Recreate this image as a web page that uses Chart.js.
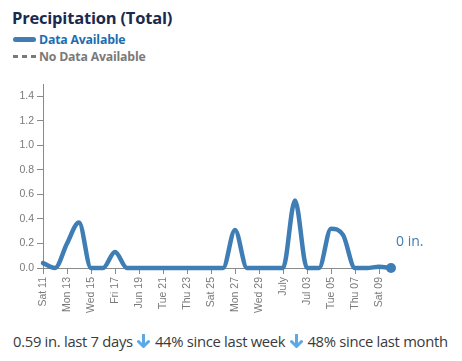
<!DOCTYPE html>
<html>
<head>
<meta charset="utf-8">
<script src="https://cdn.jsdelivr.net/npm/chart.js@4/dist/chart.umd.min.js"></script>
<style>
        body { margin: 0; background: #fff; width: 462px; height: 361px; overflow: hidden; font-family: "Open Sans", sans-serif; }
        #title { position: absolute; left: 12px; top: 6px; font-size: 16.5px; font-weight: bold; color: #1b2a4c; letter-spacing: -0.2px; }
        .leg { position: absolute; left: 13px; font-size: 12.3px; font-weight: bold; letter-spacing: -0.2px; }
        .leg i { display: inline-block; width: 23px; vertical-align: middle; margin-right: 3px; position: relative; top: -1px; }
        #leg1 { top: 31px; color: #1d6db0; }
        #leg1 i { height: 5px; border-radius: 3px; background: #3f7db5; }
        #leg2 { top: 48px; color: #7a7a7a; }
        #leg2 i { height: 3px; background: repeating-linear-gradient(90deg, #7a7a7a 0 5px, transparent 5px 9px); }
        #chartWrap { position: absolute; left: 0; top: 70px; }
        #summary { position: absolute; left: 13px; top: 331px; font-size: 14.8px; color: #3a3a3a; letter-spacing: -0.3px; white-space: nowrap; }
        #summary svg { vertical-align: -2px; margin: 0 1px; }
</style>
</head>
<body>
<div id="title">Precipitation (Total)</div>
<div class="leg" id="leg1"><i></i>Data Available</div>
<div class="leg" id="leg2"><i></i>No Data Available</div>
<div id="chartWrap"><canvas id="chart" width="462" height="250"></canvas></div>
<div id="summary">0.59 in. last 7 days <svg width="13" height="15" viewBox="0 0 13 15"><path d="M6.5 1 V12 M1.5 7.5 L6.5 12.5 L11.5 7.5" fill="none" stroke="#5ba8e6" stroke-width="3" stroke-linecap="round" stroke-linejoin="round"/></svg> 44% since last week <svg width="13" height="15" viewBox="0 0 13 15"><path d="M6.5 1 V12 M1.5 7.5 L6.5 12.5 L11.5 7.5" fill="none" stroke="#5ba8e6" stroke-width="3" stroke-linecap="round" stroke-linejoin="round"/></svg> 48% since last month</div>

<script>
// daily totals, Jun 11 .. Jul 10 (inches)
var days = ["Jun 11","Jun 12","Jun 13","Jun 14","Jun 15","Jun 16","Jun 17","Jun 18","Jun 19","Jun 20",
            "Jun 21","Jun 22","Jun 23","Jun 24","Jun 25","Jun 26","Jun 27","Jun 28","Jun 29","Jun 30",
            "Jul 01","Jul 02","Jul 03","Jul 04","Jul 05","Jul 06","Jul 07","Jul 08","Jul 09","Jul 10"];
var precip = [0.04, 0.0, 0.2, 0.37, 0, 0, 0.13, 0, 0, 0,
              0, 0, 0, 0, 0, 0, 0.31, 0, 0, 0,
              0, 0.55, 0, 0, 0.32, 0.27, 0, 0, 0.01, 0];
// every second day gets a label
var tickLabels = ["Sat 11","Mon 13","Wed 15","Fri 17","Jun 19","Tue 21","Thu 23","Sat 25",
                  "Mon 27","Wed 29","July","Jul 03","Tue 05","Thu 07","Sat 09"];
var yTicks = [0, 0.2, 0.4, 0.6, 0.8, 1.0, 1.2, 1.4];
var lastLabel = "0 in.";

var lineColor = "#3f7db5";
var axisColor = "#8a8a8a";

var points = [];
for (var i = 0; i < precip.length; i++)
        points.push({ x: i, y: precip[i] });

var radii = precip.map(function(v, i) { return i === precip.length - 1 ? 5 : 0; });

// writes the current value next to the last point
var endLabel = {
        id: "endLabel",
        afterDatasetsDraw: function(chart)
        {
                var meta = chart.getDatasetMeta(0);
                var pt = meta.data[meta.data.length - 1];
                var ctx = chart.ctx;
                ctx.save();
                ctx.font = "14px 'Open Sans'";
                ctx.fillStyle = lineColor;
                ctx.textAlign = "left";
                ctx.textBaseline = "middle";
                ctx.fillText(lastLabel, pt.x + 5, pt.y - 26);
                ctx.restore();
        }
};

var tickFont = { family: "'Liberation Sans', Arial, sans-serif", size: 10.5 };

new Chart(document.getElementById("chart").getContext("2d"), {
        type: "line",
        data: {
                datasets: [{
                        data: points,
                        borderColor: lineColor,
                        backgroundColor: lineColor,
                        borderWidth: 4.5,
                        borderCapStyle: "round",
                        borderJoinStyle: "round",
                        cubicInterpolationMode: "monotone",
                        pointRadius: radii,
                        pointHoverRadius: radii,
                        pointBorderWidth: 0,
                        clip: false
                }]
        },
        options: {
                responsive: false,
                animation: false,
                devicePixelRatio: 1,
                layout: { padding: { top: 14, right: 71, left: 0, bottom: 0 } },
                plugins: { legend: { display: false }, tooltip: { enabled: false } },
                scales: {
                        x: {
                                type: "linear",
                                min: 0,
                                max: precip.length - 1,
                                afterFit: function(s) { s.height = 52; },
                                afterBuildTicks: function(s) {
                                        s.ticks = tickLabels.map(function(t, i) { return { value: i * 2 }; });
                                },
                                border: { color: axisColor, width: 1 },
                                grid: { drawOnChartArea: false, tickLength: 6, color: axisColor },
                                ticks: {
                                        autoSkip: false,
                                        minRotation: 90,
                                        maxRotation: 90,
                                        padding: 3,
                                        color: "#7a7a7a",
                                        font: tickFont,
                                        callback: function(v) { return tickLabels[v / 2]; }
                                }
                        },
                        y: {
                                min: 0,
                                max: 1.5,
                                afterFit: function(s) { s.width = 43; },
                                afterBuildTicks: function(s) {
                                        s.ticks = yTicks.map(function(v) { return { value: v }; });
                                },
                                border: { color: axisColor, width: 1 },
                                grid: { drawOnChartArea: false, tickLength: 6, color: axisColor },
                                ticks: {
                                        padding: 3,
                                        color: "#7a7a7a",
                                        font: tickFont,
                                        callback: function(v) { return v.toFixed(1); }
                                }
                        }
                }
        },
        plugins: [endLabel]
});
</script>
</body>
</html>
